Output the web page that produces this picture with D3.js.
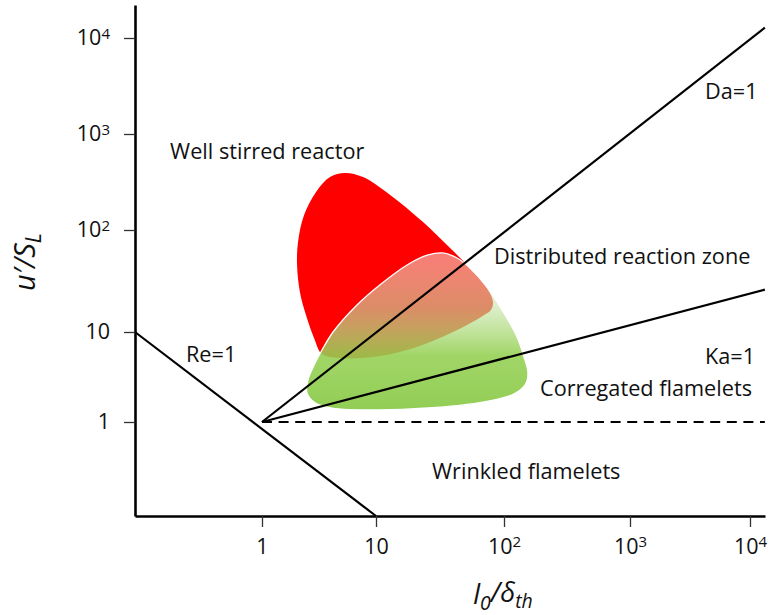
<!DOCTYPE html>
<html>
<head>
<meta charset="utf-8">
<script src="https://cdn.jsdelivr.net/npm/d3@7"></script>
<style>
  body { margin: 0; background: #fff; }
  svg text { font-family: "Open Sans", sans-serif; fill: #111; }
</style>
</head>
<body>
<svg id="chart" width="769" height="615"></svg>
<script>
// decade breakpoints (the original figure is hand-drawn, so decades differ in length)
const xDecades = [0.1, 1, 10, 100, 1000, 10000, 13335];
const yDecades = [0.1, 1, 10, 100, 1000, 10000, 22080];
const xTicks = [1, 10, 100, 1000, 10000];
const yTicks = [1, 10, 100, 1000, 10000];

// regime boundaries, in (l0/delta_th, u'/S_L)
const reLine = [[0.1, 10], [10, 0.1]];
const daLine = [[1, 1], [13300, 12800]];
const kaLine = [[1, 1], [13300, 26]];
const unityLine = [[1, 1], [13300, 1]];

// outline of the red region
const redBlob = [
  [5.35, 393], [7.7, 356], [12.9, 232], [23.3, 121], [37.9, 66.6], [54.2, 42.4],
  [73.6, 27], [82, 19.7], [79, 16.4], [68.5, 14.4], [51.4, 11.7], [31.6, 8.6],
  [17.5, 6.3], [9.4, 5.28], [4.83, 5.14], [3.36, 5.7], [2.86, 8.6], [2.43, 14.7],
  [2.15, 24.7], [2.03, 45.4], [2.07, 76.3], [2.34, 143], [2.98, 249], [3.95, 356]
];

// outline of the green region
const greenBlob = [
  [33.4, 59.6], [43, 53.1], [54.2, 42.4], [73.6, 27.6], [102, 14.7], [127, 8.8],
  [144, 5.28], [155, 3.5], [147, 2.58], [116, 2.0], [62.7, 1.63], [25.5, 1.43],
  [10.4, 1.36], [4.11, 1.43], [2.92, 1.63], [2.48, 2.1], [2.53, 2.93], [2.92, 4.52],
  [3.36, 6.31], [4.2, 10], [6.81, 18.4], [10.7, 28.9], [17.5, 45.4], [25.5, 56.9]
];

// region labels: text, l0/delta_th, u'/S_L (left end of baseline)
const labels = [
  ["Well stirred reactor", 0.189, 550],
  ["Da=1", 4217, 2318],
  ["Distributed reaction zone", 83.6, 46.4],
  ["Ka=1", 4217, 4.41],
  ["Re=1", 0.252, 4.64],
  ["Corregated flamelets", 193, 1.94],
  ["Wrinkled flamelets", 27.4, 0.248]
];

const svg = d3.select("#chart");

const x = d3.scaleLog().domain(xDecades).range([135, 262, 376, 504, 630, 750, 765]);
const y = d3.scaleLog().domain(yDecades).range([516, 422, 332, 230, 134, 38, 5]);

const defs = svg.append("defs");
const grad = defs.append("linearGradient")
    .attr("id", "greenGrad")
    .attr("x1", 0).attr("y1", 0).attr("x2", 0).attr("y2", 1);
grad.append("stop").attr("offset", "0%").attr("stop-color", "#f4faee").attr("stop-opacity", 0.5);
grad.append("stop").attr("offset", "35%").attr("stop-color", "#c6e3a4").attr("stop-opacity", 0.62);
grad.append("stop").attr("offset", "65%").attr("stop-color", "#94d052").attr("stop-opacity", 0.88);
grad.append("stop").attr("offset", "100%").attr("stop-color", "#8ccb4c").attr("stop-opacity", 0.95);

const blob = d3.line()
    .x(d => x(d[0]))
    .y(d => y(d[1]))
    .curve(d3.curveCatmullRomClosed.alpha(0.5));

svg.append("path")
    .attr("d", blob(redBlob))
    .attr("fill", "#ff0000");

svg.append("path")
    .attr("d", blob(greenBlob))
    .attr("fill", "url(#greenGrad)")
    .attr("stroke", "#fff")
    .attr("stroke-width", 1.3);

const seg = d3.line().x(d => x(d[0])).y(d => y(d[1]));

[reLine, daLine, kaLine].forEach(l => {
    svg.append("path")
        .attr("d", seg(l))
        .attr("fill", "none")
        .attr("stroke", "#000")
        .attr("stroke-width", 2.2);
});

svg.append("path")
    .attr("d", seg(unityLine))
    .attr("fill", "none")
    .attr("stroke", "#000")
    .attr("stroke-width", 2.2)
    .attr("stroke-dasharray", "10,6.6");

// axes
function powLabel(sel) {
    sel.each(function(d) {
        const t = d3.select(this).text("");
        if (d < 100) {
            t.text(d);
        } else {
            t.append("tspan").text("10");
            t.append("tspan")
                .attr("dy", "-0.45em")
                .attr("font-size", "0.7em")
                .text(Math.round(Math.log10(d)));
        }
    });
}

const xAxisG = svg.append("g")
    .attr("transform", "translate(0,516)")
    .call(d3.axisBottom(x).tickValues(xTicks).tickSize(11).tickSizeOuter(0).tickPadding(12));

const yAxisG = svg.append("g")
    .attr("transform", "translate(135,0)")
    .call(d3.axisLeft(y).tickValues(yTicks).tickSize(11).tickSizeOuter(0).tickPadding(14));

[xAxisG, yAxisG].forEach(g => {
    g.select(".domain").attr("stroke-width", 2.6);
    g.selectAll(".tick line").attr("stroke-width", 1.3).attr("stroke", "#333");
    g.selectAll(".tick text")
        .attr("font-size", 21.5)
        .attr("font-family", "Open Sans, sans-serif")
        .attr("fill", "#111")
        .call(powLabel);
});

// axis titles
const xTitle = svg.append("text")
    .attr("x", 503)
    .attr("y", 604)
    .attr("text-anchor", "middle")
    .attr("font-size", 27)
    .attr("font-style", "italic");
xTitle.append("tspan").text("l");
xTitle.append("tspan").attr("dy", "0.3em").attr("font-size", "0.72em").text("0");
xTitle.append("tspan").attr("dy", "-0.3em").text("/δ");
xTitle.append("tspan").attr("dy", "0.3em").attr("font-size", "0.72em").text("th");

const yTitle = svg.append("text")
    .attr("transform", "translate(35,262) rotate(-90)")
    .attr("text-anchor", "middle")
    .attr("font-size", 29)
    .attr("font-style", "italic");
yTitle.append("tspan").text("u′/S");
yTitle.append("tspan").attr("dy", "0.3em").attr("font-size", "0.72em").text("L");

// region labels
svg.append("g")
    .selectAll("text")
    .data(labels)
    .enter().append("text")
    .attr("x", d => x(d[1]))
    .attr("y", d => y(d[2]))
    .attr("font-size", 21.7)
    .text(d => d[0]);
</script>
</body>
</html>
